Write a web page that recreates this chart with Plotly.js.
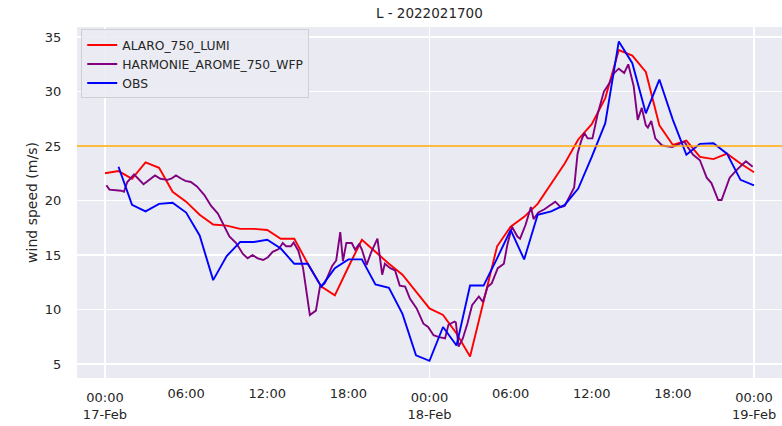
<!DOCTYPE html>
<html>
<head>
<meta charset="utf-8">
<script src="https://cdn.plot.ly/plotly-3.0.1.min.js"></script>
<style>html,body{margin:0;padding:0;background:#fff;}#chart{width:782px;height:426px;}</style>
</head>
<body>
<div id="chart"></div>
<script>
// ---- data (hours after 2022-02-17 00:00) ----
const alaroHours = [0,1,2,3,4,5,6,7,8,9,10,11,12,13,14,15,16,17,18,19,20,21,22,23,24,25,26,27,28,29,30,31,32,33,34,35,36,37,38,39,40,41,42,43,44,45,46,47,48];
const alaroValues = [22.5,22.7,22.0,23.5,23.0,20.8,19.9,18.7,17.8,17.7,17.4,17.4,17.3,16.5,16.5,14.2,12.1,11.3,13.9,16.4,15.3,14.2,13.2,11.6,10.1,9.5,7.8,5.7,10.8,15.8,17.6,18.5,19.7,21.6,23.4,25.6,27.0,29.4,33.8,33.3,31.8,26.9,25.1,25.5,24.0,23.8,24.3,23.4,22.6];

const obsHours = [1,2,3,4,5,6,7,8,9,10,11,12,13,14,15,16,17,18,19,20,21,22,23,24,25,26,27,28,29,30,31,32,33,34,35,36,37,38,39,40,41,42,43,44,45,46,47,48];
const obsValues = [23.1,19.6,19.0,19.7,19.8,18.9,16.8,12.7,14.9,16.2,16.2,16.4,15.6,14.2,14.2,12.1,13.8,14.6,14.6,12.3,12.0,9.6,5.8,5.3,8.4,6.7,12.2,12.2,14.7,17.3,14.6,18.7,19.0,19.6,21.1,24.0,27.1,34.6,32.6,28.0,31.1,27.4,24.2,25.2,25.25,24.3,21.9,21.4];

const harmonieHours = [0.1,0.33,1.2,1.4,1.65,2.15,2.85,3.25,3.7,4.1,4.6,4.9,5.25,5.65,5.95,6.35,6.8,7.35,7.85,8.35,8.75,9.2,9.7,10.2,10.55,10.9,11.3,11.7,12.05,12.4,12.85,13.15,13.4,13.75,13.95,14.3,14.65,15.15,15.6,15.9,16.25,16.8,17.1,17.4,17.6,17.85,18.25,18.5,18.8,19.0,19.35,19.7,20.15,20.5,20.7,21.1,21.45,21.8,22.2,22.55,23.05,23.55,23.9,24.3,24.65,25.15,25.4,25.85,25.95,26.15,26.45,26.8,27.15,27.65,27.95,28.3,28.6,29.05,29.5,29.75,30.1,30.5,30.7,31.1,31.5,31.7,32.05,32.5,33.3,33.7,34.0,34.7,34.95,35.2,35.45,35.7,36.05,36.45,36.9,37.3,37.65,38.0,38.4,38.7,39.1,39.4,39.7,40.0,40.15,40.4,40.7,41.2,41.95,42.5,42.85,43.1,43.5,44.0,44.5,44.85,45.35,45.6,46.2,46.8,47.4,47.9];
const harmonieValues = [21.4,21.0,20.9,20.8,21.7,22.4,21.5,21.9,22.3,22.0,21.9,22.0,22.3,22.0,21.8,21.7,21.3,20.5,19.5,18.8,17.8,16.7,16.1,15.1,14.7,15.0,14.7,14.55,14.8,15.3,15.55,16.1,15.8,15.8,16.15,15.4,13.8,9.5,9.9,12.1,12.4,14.0,14.5,17.1,14.45,16.1,16.1,15.5,16.0,15.5,14.1,15.3,16.5,13.2,14.2,13.8,13.6,12.2,12.1,11.0,10.1,8.7,8.4,7.65,7.5,7.35,8.6,8.9,8.8,6.6,7.3,8.7,10.4,11.2,10.7,12.1,12.4,13.8,14.2,15.9,17.6,16.7,16.5,17.75,19.4,18.3,18.9,19.2,19.9,19.4,19.5,21.2,24.3,25.4,26.2,25.7,25.7,28.0,30.0,30.75,31.7,32.1,31.7,32.5,30.5,27.4,28.5,26.9,26.7,27.3,25.7,25.05,24.9,25.25,25.4,24.9,24.2,23.7,22.1,21.6,20.05,20.05,22.1,22.9,23.6,23.1];

const threshold = 25;
const sixHourTickHours = [6,12,18,30,36,42];
const sixHourTickText = ['06:00','12:00','18:00','06:00','12:00','18:00'];
const dayTickHours = [0,24,48];
const dayTickText = ['00:00<br>17-Feb','00:00<br>18-Feb','00:00<br>19-Feb'];

// ---- helpers ----
const base = Date.UTC(2022,1,17,0,0,0);
function toTime(h){ return new Date(base + h*3600000).toISOString().slice(0,19).replace('T',' '); }
const xRange = [toTime(-2.07), toTime(50.07)];
const font = 'DejaVu Sans, sans-serif';

const traces = [
  {x: alaroHours.map(toTime), y: alaroValues, name: 'ALARO_750_LUMI', mode:'lines', line:{color:'#ff0000', width:1.9}},
  {x: harmonieHours.map(toTime), y: harmonieValues, name: 'HARMONIE_AROME_750_WFP', mode:'lines', line:{color:'#800080', width:1.9}},
  {x: obsHours.map(toTime), y: obsValues, name: 'OBS', mode:'lines', line:{color:'#0000ff', width:1.9}},
  {x: dayTickHours.map(toTime), y: dayTickHours.map(()=>null), xaxis:'x2', showlegend:false, hoverinfo:'skip', mode:'lines'}
];

const layout = {
  width: 782, height: 426,
  margin: {l:77, r:0, t:27, b:48},
  paper_bgcolor:'#ffffff', plot_bgcolor:'#EAEAF2',
  font: {family: font, size: 13, color:'#262626'},
  title: {text:'L - 2022021700', x:0.549, xanchor:'center', y:0.97, yanchor:'middle', font:{family:font, size:13.5, color:'#262626'}},
  xaxis: {type:'date', range:xRange, tickvals: sixHourTickHours.map(toTime), ticktext: sixHourTickText,
          showgrid:false, zeroline:false, showline:false, ticks:'outside', ticklen:3, tickcolor:'rgba(0,0,0,0)',
          tickfont:{family:font, size:13, color:'#262626'}},
  xaxis2: {type:'date', range:xRange, overlaying:'x', side:'bottom', tickvals: dayTickHours.map(toTime), ticktext: dayTickText,
          showgrid:true, gridcolor:'#ffffff', gridwidth:1.2, zeroline:false, showline:false, ticks:'outside', ticklen:7, tickcolor:'rgba(0,0,0,0)',
          tickfont:{family:font, size:13, color:'#262626'}},
  yaxis: {range:[3.72, 35.92], tickvals:[5,10,15,20,25,30,35], showgrid:true, gridcolor:'#ffffff', gridwidth:1.2, zeroline:false, showline:false,
          ticks:'outside', ticklen:12, tickcolor:'rgba(0,0,0,0)', tickfont:{family:font, size:13, color:'#262626'},
          title:{text:'wind speed (m/s)', font:{family:font, size:14, color:'#262626'}, standoff:3}},
  legend: {x:0.006, y:0.993, xanchor:'left', yanchor:'top', bgcolor:'rgba(235,235,243,0.9)', bordercolor:'#cfcfd6', borderwidth:1,
           font:{family:font, size:12.3, color:'#262626'}, tracegroupgap:0},
  shapes: [{type:'line', xref:'paper', x0:0, x1:1, yref:'y', y0:threshold, y1:threshold, line:{color:'#ffa500', width:1.6}, layer:'above'}],
  showlegend:true
};

Plotly.newPlot('chart', traces, layout, {displayModeBar:false, staticPlot:true});
</script>
</body>
</html>
